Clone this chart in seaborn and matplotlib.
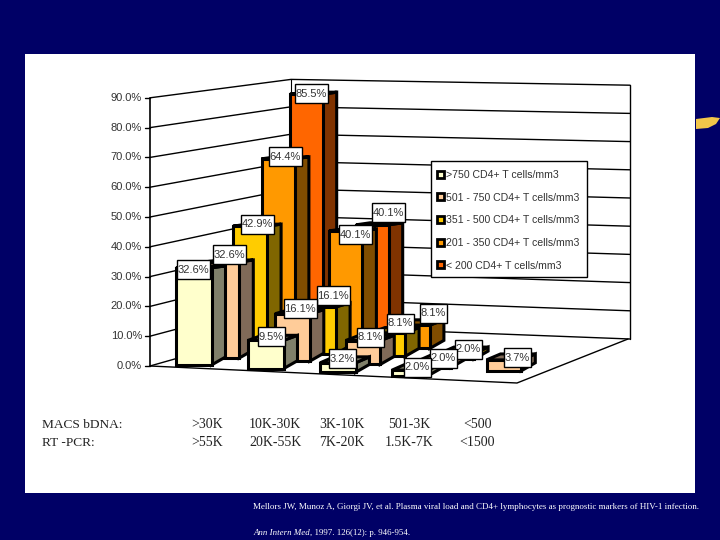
import numpy as np
import pandas as pd
import matplotlib
matplotlib.use('Agg')
import matplotlib.pyplot as plt
from matplotlib.patches import Rectangle, Polygon, Patch
import seaborn as sns

# values
series_names = ['>750 CD4+ T cells/mm3', '501 - 750 CD4+ T cells/mm3', '351 - 500 CD4+ T cells/mm3',
                '201 - 350 CD4+ T cells/mm3', '< 200 CD4+ T cells/mm3']
above_750 = [32.6, 9.5, 3.2, 2.0, np.nan]
from_501 = [32.6, 16.1, 8.1, 2.0, 3.7]
from_351 = [42.9, 16.1, 8.1, 2.0, np.nan]
from_201 = [64.4, 40.1, 8.1, np.nan, np.nan]
below_200 = [85.5, 40.1, np.nan, np.nan, np.nan]
y_ticks = [0, 10, 20, 30, 40, 50, 60, 70, 80, 90]

row_names = ['MACS bDNA:', 'RT -PCR:']
macs_labels = ['>30K', '10K-30K', '3K-10K', '501-3K', '<500']
rt_labels = ['>55K', '20K-55K', '7K-20K', '1.5K-7K', '<1500']

front_colors = ['#FFFFCC', '#FFCC99', '#FFCC00', '#FF9900', '#FF6600']
side_colors = ['#80806A', '#806A58', '#806600', '#804D00', '#803300']
navy = '#000066'

# how far each value box sits from its bar top, (depth, group): (dx, dy)
label_nudge = {(4, 0): (4.5, -0.5), (3, 0): (7, -2), (2, 0): (8, -2), (1, 0): (8, -7), (0, 0): (0.5, 2),
               (0, 1): (6.5, -3.4), (1, 1): (8.5, -5), (2, 1): (14.5, -11), (0, 2): (6, -4),
               (4, 1): (15.5, -12), (3, 1): (9.5, 4), (1, 2): (8, -3.5), (2, 2): (12.5, -9.8),
               (3, 2): (20, -12), (2, 3): (11.5, -4), (1, 3): (10.5, -3.7), (0, 3): (8.5, -3),
               (1, 4): (14, -2)}

sns.set_theme(style='white')
plt.rcParams['font.family'] = ['Liberation Sans', 'DejaVu Sans']

df = pd.DataFrame({'series': series_names, 'value': [above_750, from_501, from_351, from_201, below_200]})
df = df.explode('value').reset_index(names='depth')
df['group'] = df.groupby('depth').cumcount()
df['value'] = df['value'].astype(float)


# fake 3D: pixel position of a bar from its group and depth row
def bar_left(g, s):
    return 176 + g * (72 - 1.5 * s) + 28.5 * s


def bar_base(g, s):
    return 365 + g * (3.7 - 0.5 * s) - 7 * s


def bar_width(s):
    return 35.5 - 0.7 * s


def px_per_pct(s):
    return 2.98 - 0.035 * s


# walls: y of a percentage at the three wall corners
def wall_front(v):
    return 366 - 2.98 * v


def wall_back(v):
    return 326 - 2.74 * v


def wall_right(v):
    return 339 - 2.82 * v


side_dx = 14

fig = plt.figure(figsize=(7.2, 5.4), dpi=100, facecolor=navy)
ax = fig.add_axes([0, 0, 1, 1])
ax.add_patch(Rectangle((25, 54), 670, 439, fc='white', ec='none', zorder=0))
# stray clip art at the slide edge
ax.add_patch(Polygon([(696, 119), (712, 117), (720, 118), (716, 124), (708, 128), (696, 129)],
                     fc='#F2C64A', ec='none', zorder=0))

# gridlines
for v in y_ticks:
    ax.plot([150, 291, 630], [wall_front(v), wall_back(v), wall_right(v)], color='black', lw=1, zorder=1)
    ax.plot([145, 150], [wall_front(v), wall_front(v)], color='black', lw=1, zorder=1)
    ax.text(142, wall_front(v), f'{v:.1f}%', ha='right', va='center', fontsize=8, color='#333333')
ax.plot([150, 150], [wall_front(90), wall_front(0)], color='black', lw=1.2, zorder=1)
ax.plot([291, 291], [wall_back(90), wall_back(0)], color='black', lw=0.8, zorder=1)
ax.plot([630, 630], [wall_right(90), wall_right(0)], color='black', lw=1, zorder=1)
ax.plot([150, 517, 628], [wall_front(0), 383, wall_right(0)], color='black', lw=1, zorder=1)

# bars, back row first so the front rows cover them
labels = []
for s in range(4, -1, -1):
    sub = df[(df['depth'] == s) & df['value'].notna()]
    bar_w = bar_width(s)
    centers = np.array([bar_left(g, s) + bar_w / 2 for g in sub['group']])
    bases = np.array([bar_base(g, s) for g in sub['group']])
    heights = -sub['value'].to_numpy() * px_per_pct(s)
    gap = np.min(np.diff(np.sort(centers)))
    n0 = len(ax.patches)
    z = 10 + (4 - s) * 2
    sns.barplot(x=centers, y=heights, native_scale=True, width=bar_w / gap, bottom=bases,
                color=front_colors[s], saturation=1, edgecolor='black', linewidth=2.2,
                errorbar=None, zorder=z + 1, ax=ax)
    for p, val, g in zip(ax.patches[n0:], sub['value'], sub['group']):
        x0, x1 = p.get_x(), p.get_x() + p.get_width()
        base = p.get_y()
        top = base + p.get_height()
        rise_base = 8
        rise_top = max(2, 6.5 - 0.15 * val)
        ax.add_patch(Polygon([(x1, base), (x1 + side_dx, base - rise_base), (x1 + side_dx, top - rise_top), (x1, top)],
                             fc=side_colors[s], ec='black', lw=2.2, joinstyle='miter', zorder=z))
        ax.add_patch(Polygon([(x0, top), (x0 + side_dx, top - rise_top), (x1 + side_dx, top - rise_top), (x1, top)],
                             fc=side_colors[s], ec='black', lw=2.2, joinstyle='miter', zorder=z))
        dx, dy = label_nudge[(s, g)]
        labels.append((x0 + 16.5 + dx, top + dy, val))

# value boxes
for i, (x, y, val) in enumerate(labels):
    txt = f'{val:.1f}%'
    w = 33 if val >= 10 else 27
    ax.add_patch(Rectangle((x - w / 2, y - 9.5), w, 19, fc='white', ec='black', lw=1, zorder=30 + i * 2))
    ax.text(x, y, txt, ha='center', va='center', fontsize=8, color='#333333', zorder=31 + i * 2)

# legend box drawn separately so the rows can sit where they sit on the slide
ax.add_patch(Rectangle((431, 161), 156, 116, fc='white', ec='black', lw=1, zorder=70))
handles = [Patch(fc=c, ec='black', lw=2) for c in front_colors]
leg = ax.legend(handles, series_names, loc='upper left', bbox_to_anchor=(437, 170), bbox_transform=ax.transData,
                borderaxespad=0, fontsize=7.6, frameon=False, handlelength=0.65, handleheight=0.65,
                handletextpad=0.25, labelspacing=1.2, borderpad=0, labelcolor='#333333')
leg.set_zorder(71)

# table below the chart
cols = [207, 275, 342, 409, 477]
for y, name, row in zip([425, 443], row_names, [macs_labels, rt_labels]):
    ax.text(42, y, name, family='Liberation Serif', fontsize=9.6, color='#222222', va='center')
    for x, t in zip(cols, row):
        ax.text(x, y, t, family='Liberation Serif', fontsize=10, color='#222222', va='center', ha='center')

ax.text(253, 507, 'Mellors JW, Munoz A, Giorgi JV, et al. Plasma viral load and CD4+ lymphocytes as prognostic markers of HIV-1 infection.',
        family='Liberation Serif', fontsize=6.5, color='white', va='center')
ax.text(253, 533, 'Ann Intern Med', family='Liberation Serif', style='italic', fontsize=6.4, color='white', va='center')
ax.text(310, 533, ', 1997. 126(12): p. 946-954.', family='Liberation Serif', fontsize=6.4, color='white', va='center')

ax.set_xlim(0, 720)
ax.set_ylim(540, 0)
ax.set_axis_off()
fig.savefig('out.png', dpi=100, facecolor=navy)
